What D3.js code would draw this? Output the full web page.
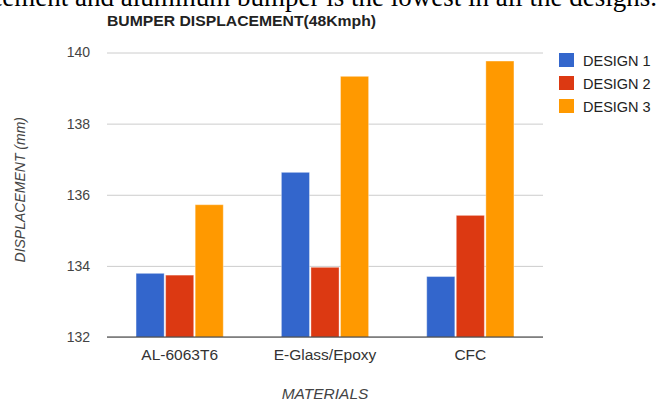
<!DOCTYPE html>
<html>
<head>
<meta charset="utf-8">
<script src="https://cdn.jsdelivr.net/npm/d3@7/dist/d3.min.js"></script>
<style>
  html, body { margin: 0; padding: 0; background: #fff; }
  svg { display: block; font-family: Arial, "Liberation Sans", sans-serif; }
</style>
</head>
<body>
<svg id="chart" width="658" height="401"></svg>
<script>
// Bumper displacement at 48 km/h for each material and design
const materials = ["AL-6063T6", "E-Glass/Epoxy", "CFC"];
const designs = ["DESIGN 1", "DESIGN 2", "DESIGN 3"];
const design1 = [133.79, 136.63, 133.70];
const design2 = [133.74, 133.96, 135.42];
const design3 = [135.72, 139.33, 139.76];
const yTicks = [132, 134, 136, 138, 140];
const colors = ["#3366cc", "#dc3912", "#ff9900"];

const seriesValues = [design1, design2, design3];
const rows = materials.map((m, i) => ({
  material: m,
  values: designs.map((d, j) => ({ design: d, value: seriesValues[j][i] }))
}));

const svg = d3.select("#chart");
const plotLeft = 107, plotRight = 543, plotTop = 52.5, plotBottom = 337;

const x0 = d3.scaleBand().domain(materials).range([plotLeft, plotRight])
  .paddingInner(0.4).paddingOuter(0.2);
const x1 = d3.scaleBand().domain(designs).range([0, x0.bandwidth()]).paddingInner(0.05);
const y = d3.scaleLinear().domain([132, 140]).range([plotBottom, plotTop]);
const color = d3.scaleOrdinal().domain(designs).range(colors);

// Sentence running above the chart (clipped by the top edge)
svg.append("text")
  .attr("x", 657).attr("y", 5.5)
  .attr("text-anchor", "end")
  .style("font-family", "'Liberation Serif', 'Times New Roman', serif")
  .style("font-size", "27px")
  .attr("fill", "#000")
  .text("displacement and aluminum bumper is the lowest in all the designs.");

// Title
svg.append("text")
  .attr("x", 107).attr("y", 26)
  .attr("textLength", 269).attr("lengthAdjust", "spacingAndGlyphs")
  .style("font-size", "14px").style("font-weight", "bold")
  .attr("fill", "#222")
  .text("BUMPER DISPLACEMENT(48Kmph)");

// Horizontal gridlines and y labels
const yAxis = d3.axisLeft(y).tickValues(yTicks).tickSize(plotRight - plotLeft).tickPadding(17)
  .tickFormat(d3.format("d"));
const gy = svg.append("g").attr("transform", `translate(${plotRight},0)`).call(yAxis);
gy.select(".domain").remove();
gy.selectAll(".tick line").attr("stroke", "#cccccc").attr("stroke-width", 1);
gy.selectAll(".tick text")
  .attr("fill", "#444").style("font-size", "14px").style("font-family", "Arial, 'Liberation Sans', sans-serif");

// Bars
const groups = svg.append("g").selectAll("g").data(rows).join("g")
  .attr("transform", d => `translate(${x0(d.material)},0)`);
groups.selectAll("rect").data(d => d.values).join("rect")
  .attr("x", d => x1(d.design))
  .attr("y", d => y(d.value))
  .attr("width", x1.bandwidth())
  .attr("height", d => y(132) - y(d.value))
  .attr("fill", d => color(d.design))
  .attr("stroke", "#ffffff").attr("stroke-opacity", 0.35).attr("stroke-width", 1);

// Baseline
svg.append("line")
  .attr("x1", plotLeft).attr("x2", plotRight)
  .attr("y1", y(132)).attr("y2", y(132))
  .attr("stroke", "#333").attr("stroke-width", 1);

// Category labels
const xAxis = d3.axisBottom(x0).tickSize(0).tickPadding(12);
const gx = svg.append("g").attr("transform", `translate(0,${plotBottom})`).call(xAxis);
gx.select(".domain").remove();
gx.selectAll(".tick text")
  .attr("fill", "#333").style("font-size", "15.5px").style("font-family", "Arial, 'Liberation Sans', sans-serif");

// Axis titles
svg.append("text")
  .attr("x", (plotLeft + plotRight) / 2).attr("y", 399)
  .attr("text-anchor", "middle")
  .style("font-size", "15.5px").style("font-style", "italic")
  .attr("fill", "#444")
  .text("MATERIALS");

svg.append("text")
  .attr("transform", `translate(24.5,${(plotTop + plotBottom) / 2 - 5}) rotate(-90)`)
  .attr("text-anchor", "middle")
  .style("font-size", "14px").style("font-style", "italic")
  .attr("fill", "#444")
  .text("DISPLACEMENT (mm)");

// Legend
const legend = svg.append("g").selectAll("g").data(designs).join("g")
  .attr("transform", (d, i) => `translate(559,${60 + i * 23})`);
legend.append("rect")
  .attr("x", 0).attr("y", -7).attr("width", 15).attr("height", 14)
  .attr("fill", d => color(d));
legend.append("text")
  .attr("x", 24).attr("y", 5.5)
  .style("font-size", "14.5px")
  .attr("fill", "#222")
  .text(d => d);
</script>
</body>
</html>
